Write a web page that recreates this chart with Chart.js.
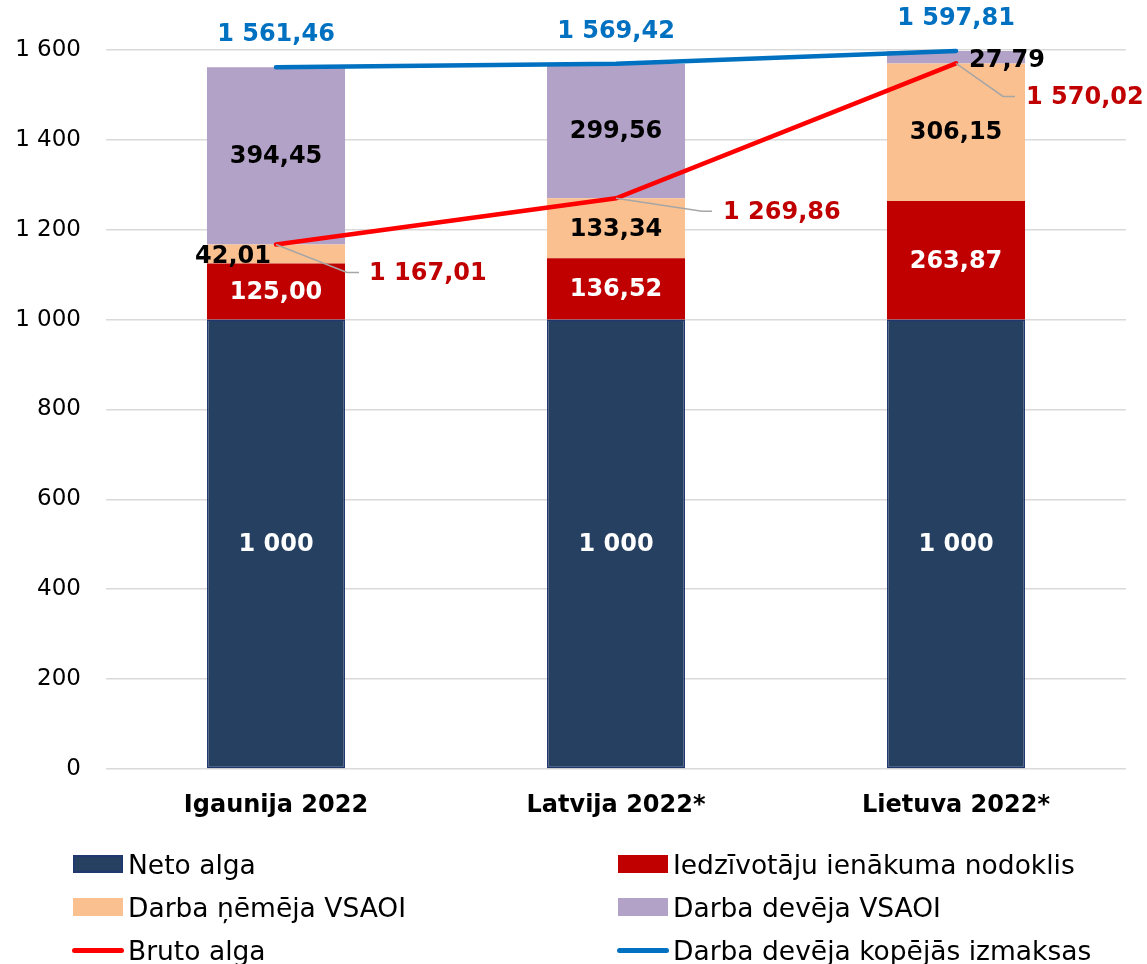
<!DOCTYPE html>
<html>
<head>
<meta charset="utf-8">
<script src="https://cdn.jsdelivr.net/npm/chart.js@4"></script>
<style>
html,body{margin:0;padding:0;background:#fff;}
#wrap{position:relative;width:1147px;height:964px;overflow:hidden;}
#c{position:absolute;left:0;top:0;}
.lg{position:absolute;font-family:"DejaVu Sans",Verdana,sans-serif;font-size:26.5px;color:#000;white-space:nowrap;display:flex;align-items:center;height:40px;}
.lg .sw{width:50px;height:18px;margin-right:5px;box-sizing:border-box;}
.lg .ln{width:52px;height:5px;border-radius:3px;margin-right:4px;}
</style>
</head>
<body>
<div id="wrap">
<canvas id="c" width="1147" height="964"></canvas>
<div id="legend"></div>
</div>
<script>
// ---- data ----
const categories = ["Igaunija 2022", "Latvija 2022*", "Lietuva 2022*"];
const netoAlga = [1000, 1000, 1000];
const iedzNodoklis = [125.00, 136.52, 263.87];
const nemejaVSAOI = [42.01, 133.34, 306.15];
const devejaVSAOI = [394.45, 299.56, 27.79];
const brutoAlga = [1167.01, 1269.86, 1570.02];
const kopejasIzmaksas = [1561.46, 1569.42, 1597.81];
const yTicks = [0, 200, 400, 600, 800, 1000, 1200, 1400, 1600];

const seriesNames = ["Neto alga", "Iedzīvotāju ienākuma nodoklis", "Darba ņēmēja VSAOI", "Darba devēja VSAOI", "Bruto alga", "Darba devēja kopējās izmaksas"];

const FONT = '"DejaVu Sans", Verdana, sans-serif';

function fmt(v, dec) {
  let s = v.toFixed(dec);
  let parts = s.split('.');
  parts[0] = parts[0].replace(/\B(?=(\d{3})+(?!\d))/g, ' ');
  return parts.join(',');
}

const labelPlugin = {
  id: 'labels',
  afterDatasetsDraw(chart, args, opts) {
    const ctx = chart.ctx;
    ctx.save();
    ctx.font = 'bold 24px ' + FONT;
    ctx.textBaseline = 'middle';
    chart.data.datasets.forEach((ds, di) => {
      const meta = chart.getDatasetMeta(di);
      const lo = ds.labelOpts || {};
      meta.data.forEach((el, i) => {
        const v = ds.data[i];
        const txt = fmt(v, lo.dec);
        if (ds.type === 'line') {
          if (lo.leader) {
            const L = lo.leader[i];
            ctx.strokeStyle = '#A6A6A6';
            ctx.lineWidth = 1.5;
            ctx.beginPath();
            ctx.moveTo(el.x, el.y);
            ctx.lineTo(el.x + L[0], el.y + L[1]);
            ctx.lineTo(el.x + L[2], el.y + L[1]);
            ctx.stroke();
            ctx.fillStyle = lo.color;
            ctx.textAlign = 'left';
            ctx.fillText(txt, el.x + L[3], el.y + L[1] + 1);
          } else {
            ctx.fillStyle = lo.color;
            ctx.textAlign = 'center';
            ctx.fillText(txt, el.x, el.y + lo.dy);
          }
        } else {
          const off = (lo.offsets && lo.offsets[i]) || [0, 0];
          const cy = (el.y + el.base) / 2;
          ctx.fillStyle = lo.color;
          ctx.textAlign = 'center';
          ctx.fillText(txt, el.x + off[0], cy + off[1] + 1);
        }
      });
    });
    ctx.restore();
  }
};

const chart = new Chart(document.getElementById('c'), {
  type: 'bar',
  data: {
    labels: categories,
    datasets: [
      { type: 'line', label: seriesNames[4], data: brutoAlga, borderColor: '#FF0000', backgroundColor: '#FF0000',
        borderWidth: 4.5, pointRadius: 0, tension: 0, borderCapStyle: 'round', stack: 'l1', order: 0,
        labelOpts: { dec: 2, color: '#C00000', leader: [[71, 28, 83, 93], [86, 13, 96, 107], [47, 33, 59, 70]] } },
      { type: 'line', label: seriesNames[5], data: kopejasIzmaksas, borderColor: '#0070C0', backgroundColor: '#0070C0',
        borderWidth: 4.5, pointRadius: 0, tension: 0, borderCapStyle: 'round', stack: 'l2', order: 0,
        labelOpts: { dec: 2, color: '#0070C0', dy: -32 } },
      { label: seriesNames[0], data: netoAlga, backgroundColor: '#264061', borderColor: '#1F3870', borderWidth: 1.5, borderSkipped: false, order: 1,
        labelOpts: { dec: 0, color: '#FFFFFF' } },
      { label: seriesNames[1], data: iedzNodoklis, backgroundColor: '#C00000', borderWidth: 0, order: 1,
        labelOpts: { dec: 2, color: '#FFFFFF' } },
      { label: seriesNames[2], data: nemejaVSAOI, backgroundColor: '#FAC090', borderWidth: 0, order: 1,
        labelOpts: { dec: 2, color: '#000000', offsets: [[-43, 2], null, null] } },
      { label: seriesNames[3], data: devejaVSAOI, backgroundColor: '#B3A2C7', borderWidth: 0, order: 1,
        labelOpts: { dec: 2, color: '#000000', offsets: [null, null, [51, 3]] } }
    ]
  },
  options: {
    responsive: false,
    animation: false,
    layout: { padding: { top: 5, right: 21, left: 0, bottom: 0 } },
    datasets: { bar: { categoryPercentage: 1, barPercentage: 0.406 } },
    plugins: { legend: { display: false }, tooltip: { enabled: false } },
    scales: {
      x: {
        stacked: true,
        grid: { display: false, drawTicks: false },
        border: { display: false },
        ticks: { color: '#000', font: { family: FONT, size: 24, weight: 'bold' }, padding: 22 },
        afterFit(s) { s.height = 195; }
      },
      y: {
        stacked: true,
        min: 0, max: 1700,
        bounds: 'data',
        grid: { color: '#D9D9D9', lineWidth: 1.5, drawTicks: true, tickLength: 25, tickColor: 'rgba(0,0,0,0)' },
        border: { display: false },
        afterBuildTicks(s) { s.ticks = yTicks.map(v => ({ value: v })); },
        ticks: { color: '#000', font: { family: FONT, size: 23, lineHeight: 0.4 }, padding: 0, callback: v => fmt(v, 0) },
        afterFit(s) { s.width = 106; }
      }
    }
  },
  plugins: [labelPlugin]
});

// ---- HTML legend ----
const legendItems = [
  { name: seriesNames[0], kind: 'box', color: '#264061', border: '#1F3870', x: 73, y: 864 },
  { name: seriesNames[1], kind: 'box', color: '#C00000', x: 618, y: 864 },
  { name: seriesNames[2], kind: 'box', color: '#FAC090', x: 73, y: 907 },
  { name: seriesNames[3], kind: 'box', color: '#B3A2C7', x: 618, y: 907 },
  { name: seriesNames[4], kind: 'line', color: '#FF0000', x: 72, y: 950 },
  { name: seriesNames[5], kind: 'line', color: '#0070C0', x: 617, y: 950 }
];
const lg = document.getElementById('legend');
legendItems.forEach(it => {
  const d = document.createElement('div');
  d.className = 'lg';
  d.style.left = it.x + 'px';
  d.style.top = (it.y - 20) + 'px';
  const m = document.createElement('span');
  if (it.kind === 'box') {
    m.className = 'sw';
    m.style.background = it.color;
    if (it.border) m.style.border = '2px solid ' + it.border;
  } else {
    m.className = 'ln';
    m.style.background = it.color;
  }
  d.appendChild(m);
  const t = document.createElement('span');
  t.textContent = it.name;
  d.appendChild(t);
  lg.appendChild(d);
});
</script>
</body>
</html>
